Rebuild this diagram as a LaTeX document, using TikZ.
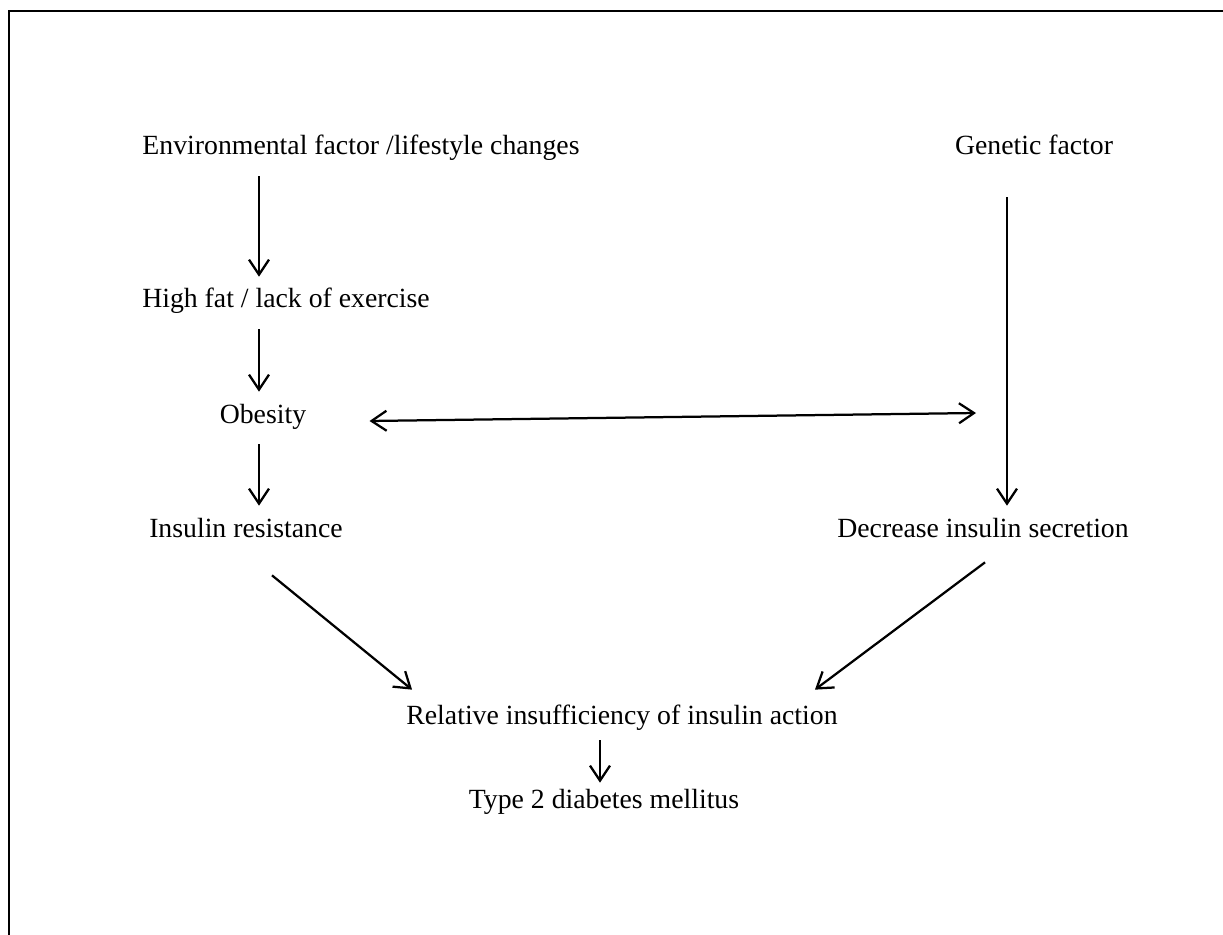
\documentclass[tikz,border=0pt]{standalone}
\usepackage{fontspec}
\setmainfont{Liberation Serif}
\usetikzlibrary{arrows.meta}

\begin{document}
\begin{tikzpicture}[
  x=0.02cm, y=-0.02cm,
  factor/.style={inner sep=0pt, anchor=base, text height=0.38cm, text depth=0.12cm, font=\fontsize{15.8pt}{19pt}\selectfont},
  flow/.style={-{Straight Barb[length=0.3cm,width=0.4cm]}, line width=0.045cm, shorten <=0.3cm, shorten >=0.24cm}
  ]
  \useasboundingbox (0,0) rectangle (1223,935);
  \clip (0,0) rectangle (1223,935);
  \draw[line width=0.045cm] (9,960) -- (9,11) -- (1240,11);

  \node[factor] (env) at (361,155) {Environmental factor /lifestyle changes};
  \node[factor] (gen) at (1034,155) {Genetic factor};
  \node[factor] (hf) at (286,308) {High fat / lack of exercise};
  \node[factor] (obe) at (263,423) {Obesity};
  \node[factor] (ir) at (246,537) {Insulin resistance};
  \node[factor] (dec) at (983,537) {Decrease insulin secretion};
  \node[factor] (rel) at (622,724) {Relative insufficiency of insulin action};
  \node[factor] (t2) at (604,808) {Type 2 diabetes mellitus};

  \coordinate (lcol) at (259,0);
  \coordinate (rcol) at (1007,0);
  \coordinate (mcol) at (600,0);
  \coordinate (gx) at (976,413);

  \draw[flow] (env.south -| lcol) -- (hf.north -| lcol);
  \draw[flow] (hf.south -| lcol) -- (obe.north -| lcol);
  \draw[flow] (obe.south -| lcol) -- (ir.north -| lcol);
  \draw[flow, shorten <=0.72cm] (gen.south -| rcol) -- (dec.north -| rcol);
  \draw[flow, {Straight Barb[length=0.3cm,width=0.4cm]}-{Straight Barb[length=0.3cm,width=0.4cm]}, shorten <=0pt, shorten >=0pt]
    ([xshift=1.26cm,yshift=-0.09cm]obe.east) -- (gx);
  \draw[flow, shorten <=0pt, shorten >=0pt] ([xshift=0.52cm,yshift=-0.64cm]ir.south) -- ([xshift=-4.2cm,yshift=0.3cm]rel.north);
  \draw[flow, shorten <=0pt, shorten >=0pt] ([xshift=0.04cm,yshift=-0.38cm]dec.south) -- ([xshift=3.86cm,yshift=0.3cm]rel.north);
  \draw[flow, shorten <=0.2cm, shorten >=0.12cm] (rel.south -| mcol) -- (t2.north -| mcol);
\end{tikzpicture}
\end{document}
